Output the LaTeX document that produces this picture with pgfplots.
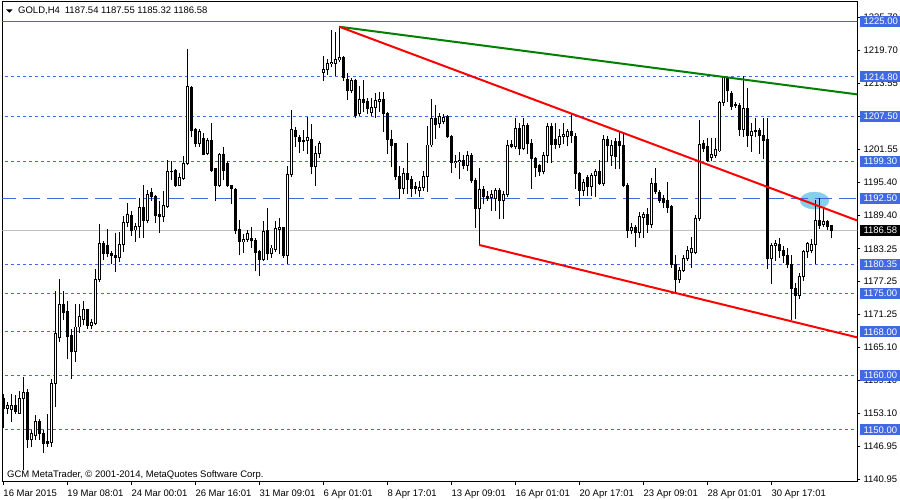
\documentclass[border=0pt]{standalone}
\usepackage{pgfplots}
\pgfplotsset{compat=1.18}
\usepackage{pgfplotstable}
\usepackage{fontspec}
\setmainfont{Liberation Sans}

\definecolor{mtblue}{RGB}{65,105,225}
\definecolor{mtgreen}{RGB}{0,128,0}
\definecolor{mtsky}{RGB}{135,206,235}
\definecolor{mtgray}{RGB}{192,192,192}
\newcommand\mtfont{\fontsize{9.5}{11}\selectfont}
% boxed price label on the right scale
\newcommand\bbox[2]{{\setlength{\fboxsep}{0pt}\colorbox{#1}{\makebox[41pt][l]{\rule[-2.3pt]{0pt}{11pt}\hspace{4pt}\textcolor{white}{#2}}}}}

% GOLD H4 bars: index, open, high, low, close
\pgfplotstableread{
i o h l c
0 1155.7 1156.5 1150.4 1154.0
1 1154.0 1155.1 1153.1 1154.5
2 1153.8 1156.6 1151.6 1154.5
3 1154.5 1156.3 1153.0 1153.4
4 1153.1 1157.0 1153.0 1155.7
5 1155.7 1159.7 1142.7 1156.8
6 1156.8 1157.5 1146.7 1148.2
7 1148.2 1149.9 1147.0 1149.3
8 1149.0 1152.6 1148.2 1151.5
9 1151.5 1151.9 1148.3 1149.3
10 1149.3 1149.9 1145.8 1147.6
11 1147.9 1152.8 1147.0 1147.6
12 1147.7 1159.2 1147.0 1158.5
13 1158.5 1175.5 1154.3 1167.7
14 1167.0 1177.6 1166.2 1173.0
15 1173.0 1175.5 1170.2 1171.6
16 1171.7 1173.5 1163.1 1167.2
17 1167.3 1168.4 1159.5 1164.4
18 1164.4 1173.0 1162.5 1168.9
19 1168.9 1173.0 1167.8 1170.8
20 1170.3 1173.5 1169.3 1172.1
21 1172.1 1172.2 1168.7 1169.2
22 1169.2 1170.2 1168.7 1169.7
23 1169.6 1179.4 1169.3 1177.7
24 1177.7 1187.8 1177.2 1184.3
25 1184.3 1184.6 1181.2 1182.3
26 1183.9 1186.8 1181.8 1182.3
27 1182.4 1182.7 1180.5 1182.0
28 1182.1 1186.1 1179.1 1181.6
29 1181.6 1186.2 1180.9 1184.1
30 1184.1 1189.2 1182.7 1188.1
31 1188.1 1191.5 1187.3 1189.5
32 1189.3 1190.1 1185.7 1186.6
33 1186.7 1187.9 1184.6 1187.4
34 1187.3 1192.5 1185.4 1190.9
35 1190.9 1194.9 1185.4 1188.5
36 1188.4 1194.0 1188.0 1193.3
37 1193.5 1194.3 1192.2 1192.9
38 1192.9 1193.1 1188.0 1189.3
39 1189.5 1191.9 1186.3 1189.1
40 1189.1 1193.7 1188.2 1191.2
41 1191.1 1199.5 1190.9 1197.5
42 1197.5 1199.2 1195.9 1197.4
43 1197.7 1197.8 1194.7 1194.9
44 1194.9 1197.1 1194.8 1196.3
45 1196.2 1200.2 1195.9 1198.9
46 1198.9 1219.8 1198.8 1213.0
47 1212.8 1213.1 1203.9 1205.0
48 1205.1 1205.4 1202.0 1202.5
49 1202.5 1205.1 1202.1 1204.7
50 1203.5 1204.5 1200.5 1200.6
51 1200.7 1203.5 1200.5 1203.2
52 1203.2 1206.2 1197.4 1197.7
53 1197.9 1198.0 1192.2 1194.9
54 1194.8 1200.8 1194.6 1200.5
55 1200.5 1201.9 1195.9 1197.6
56 1198.9 1199.2 1194.6 1194.8
57 1194.9 1194.9 1191.5 1194.3
58 1194.2 1194.3 1186.0 1186.6
59 1186.8 1188.5 1182.2 1184.5
60 1184.5 1185.8 1182.6 1185.0
61 1184.9 1186.6 1184.5 1186.0
62 1185.1 1187.1 1183.5 1184.7
63 1184.8 1185.1 1179.2 1182.6
64 1182.8 1182.9 1178.3 1181.3
65 1181.3 1188.2 1181.1 1186.4
66 1186.6 1190.6 1181.2 1182.3
67 1182.3 1183.9 1181.7 1183.4
68 1183.2 1188.2 1182.8 1187.0
69 1186.8 1188.8 1182.3 1187.1
70 1187.1 1187.2 1181.7 1182.0
71 1182.0 1198.4 1180.6 1196.9
72 1196.9 1208.6 1196.5 1205.1
73 1205.05 1205.5 1202.1 1203.8
74 1203.6 1204.1 1200.9 1202.9
75 1203.2 1204.9 1201.3 1202.9
76 1203.1 1207.3 1200.8 1203.6
77 1203.4 1206.0 1197.0 1198.3
78 1198.3 1202.0 1194.8 1200.8
79 1200.8 1202.9 1200.0 1202.6
80 1215.6 1218.5 1214.1 1216.2
81 1216.1 1218.0 1215.3 1217.3
82 1217.2 1223.4 1216.7 1217.4
83 1217.3 1222.9 1215.1 1218.0
84 1217.9 1224.0 1217.6 1218.4
85 1218.4 1218.5 1214.2 1214.7
86 1214.4 1215.5 1210.7 1212.3
87 1212.3 1214.5 1211.9 1214.2
88 1214.2 1214.4 1207.4 1207.8
89 1208.0 1213.1 1207.8 1210.6
90 1210.6 1214.2 1208.4 1210.1
91 1210.3 1210.9 1208.0 1209.0
92 1208.2 1210.9 1207.8 1209.2
93 1209.2 1211.7 1207.4 1210.4
94 1210.3 1211.9 1208.4 1210.6
95 1210.6 1211.9 1204.7 1208.1
96 1208.1 1208.2 1200.8 1203.3
97 1203.3 1205.0 1198.3 1202.2
98 1202.5 1202.6 1195.9 1196.5
99 1196.6 1198.3 1192.5 1194.3
100 1194.3 1198.0 1193.4 1197.1
101 1197.1 1202.6 1193.4 1195.9
102 1196.0 1196.5 1192.8 1194.3
103 1194.6 1195.4 1193.4 1194.3
104 1193.9 1195.6 1192.8 1194.5
105 1194.5 1197.4 1194.0 1196.6
106 1196.6 1205.7 1193.7 1202.3
107 1202.3 1210.6 1202.1 1207.2
108 1207.2 1209.5 1203.5 1206.1
109 1206.2 1208.0 1205.5 1207.5
110 1206.6 1207.9 1206.2 1207.4
111 1207.5 1207.7 1203.7 1203.8
112 1203.8 1204.0 1197.3 1199.0
113 1199.0 1200.4 1198.1 1199.3
114 1199.2 1201.0 1196.1 1199.5
115 1199.5 1200.4 1197.9 1198.5
116 1198.5 1201.1 1197.6 1200.4
117 1200.4 1200.7 1195.5 1195.7
118 1195.8 1196.1 1187.2 1190.6
119 1190.6 1197.9 1183.9 1194.1
120 1194.1 1194.6 1191.5 1192.9
121 1192.9 1193.7 1192.1 1192.5
122 1192.6 1194.0 1190.3 1193.3
123 1192.4 1194.3 1190.2 1194.0
124 1194.0 1194.4 1188.8 1192.1
125 1192.1 1193.7 1188.8 1193.3
126 1193.3 1203.1 1192.9 1202.2
127 1202.4 1203.2 1201.8 1202.0
128 1202.0 1207.1 1201.6 1205.4
129 1205.4 1206.2 1200.5 1201.6
130 1201.6 1207.1 1201.4 1205.9
131 1205.9 1206.2 1200.7 1202.6
132 1202.6 1203.4 1194.4 1199.8
133 1199.8 1200.1 1196.5 1198.2
134 1198.5 1198.8 1196.7 1197.5
135 1197.5 1201.0 1197.0 1200.4
136 1200.4 1206.2 1199.1 1205.7
137 1205.7 1206.2 1199.1 1202.4
138 1203.4 1206.3 1201.6 1202.4
139 1202.4 1205.2 1201.9 1203.8
140 1203.9 1206.3 1202.5 1204.2
141 1203.9 1205.1 1202.2 1204.8
142 1204.8 1208.0 1202.8 1204.0
143 1203.8 1204.4 1194.3 1197.0
144 1197.0 1197.3 1191.2 1194.0
145 1194.0 1195.9 1193.1 1195.5
146 1196.4 1196.7 1193.1 1194.7
147 1194.6 1197.0 1193.1 1196.7
148 1196.7 1197.8 1192.9 1197.5
149 1197.5 1199.5 1195.1 1195.3
150 1195.3 1204.1 1194.9 1203.3
151 1203.3 1203.8 1199.2 1202.2
152 1200.3 1203.1 1198.6 1202.2
153 1203.0 1203.5 1198.0 1200.1
154 1202.9 1204.7 1198.0 1202.2
155 1202.2 1204.4 1194.6 1194.9
156 1194.9 1195.2 1185.4 1186.6
157 1186.6 1187.9 1186.0 1187.2
158 1187.2 1187.5 1183.7 1186.3
159 1186.3 1190.0 1185.3 1189.1
160 1189.0 1190.0 1185.3 1189.5
161 1189.5 1190.6 1186.3 1187.7
162 1187.7 1196.1 1187.2 1195.2
163 1195.3 1197.9 1193.4 1193.7
164 1193.5 1194.0 1191.8 1192.1
165 1192.5 1193.1 1190.8 1191.8
166 1192.1 1195.5 1190.0 1190.9
167 1191.0 1191.2 1179.9 1180.4
168 1180.4 1182.0 1175.3 1177.6
169 1177.6 1179.9 1177.1 1179.3
170 1179.3 1182.0 1179.0 1181.4
171 1181.4 1183.6 1181.1 1182.9
172 1182.5 1185.3 1179.8 1183.3
173 1182.5 1189.4 1182.3 1188.8
174 1188.8 1206.8 1188.5 1202.4
175 1202.6 1203.2 1201.1 1201.7
176 1202.0 1203.5 1199.2 1199.5
177 1200.0 1203.5 1199.4 1200.6
178 1200.4 1203.5 1200.0 1201.4
179 1201.2 1210.3 1201.1 1210.1
180 1210.1 1214.9 1209.6 1214.6
181 1214.6 1214.7 1210.3 1212.3
182 1211.8 1212.1 1208.9 1209.3
183 1209.8 1210.1 1209.2 1209.5
184 1209.6 1209.9 1204.1 1205.2
185 1205.2 1214.9 1203.9 1209.0
186 1209.0 1212.7 1202.0 1204.0
187 1204.0 1206.3 1201.1 1204.7
188 1205.0 1207.2 1203.8 1204.7
189 1205.0 1205.4 1200.8 1204.1
190 1204.1 1207.2 1199.8 1203.2
191 1203.3 1207.2 1179.6 1181.4
192 1181.4 1184.2 1176.8 1183.9
193 1183.9 1184.8 1181.1 1184.3
194 1184.1 1185.1 1181.7 1182.9
195 1183.0 1183.6 1180.8 1182.1
196 1182.1 1183.3 1179.9 1180.4
197 1180.4 1182.1 1170.2 1175.9
198 1175.9 1176.8 1170.4 1174.7
199 1174.7 1178.8 1174.1 1178.2
200 1178.2 1183.0 1177.5 1182.7
201 1182.7 1184.5 1181.7 1184.2
202 1182.9 1185.0 1182.5 1184.1
203 1184.1 1192.2 1180.5 1188.5
204 1188.5 1192.5 1187.0 1187.6
205 1187.8 1190.6 1187.3 1188.2
206 1188.2 1188.5 1186.7 1187.4
207 1187.54 1187.55 1185.32 1186.58
}\candles

\pgfplotsset{
  level/.style={mtblue, line width=1pt, forget plot},
  dotlevel/.style={level, dash pattern=on 3pt off 3pt},
  stick/.style={draw=none, mark=none, forget plot,
    error bars/y dir=plus, error bars/y explicit, error bars/error mark=none},
}

\begin{document}
\begin{tikzpicture}
\path[use as bounding box] (0,0) rectangle (900pt,500pt);
\begin{axis}[
  at={(2.3pt,18.3pt)}, anchor=south west,
  scale only axis, width=855pt, height=480pt,
  xmin=-0.25, xmax=213.5, ymin=1140.51, ymax=1228.6,
  clip marker paths=true,
  axis line style={black, line width=1pt},
  tick align=outside, major tick length=3pt,
  tick style={black, line width=1pt},
  xtick pos=left, xticklabel pos=left,
  ytick pos=right, yticklabel pos=right,
  xtick={0,16,...,192},
  xticklabels={16 Mar 2015, 19 Mar 08:01, 24 Mar 00:01, 26 Mar 16:01, 31 Mar 09:01, 6 Apr 01:01, 8 Apr 17:01, 13 Apr 09:01, 16 Apr 01:01, 20 Apr 17:01, 23 Apr 09:01, 28 Apr 01:01, 30 Apr 17:01},
  ytick={1140.95,1146.95,1153.10,1159.10,1165.10,1171.25,1177.25,1183.25,1189.40,1195.40,1201.55,1207.55,1213.55,1219.70,1225.70},
  yticklabels={1140.95,1146.95,1153.10,1159.10,1165.10,1171.25,1177.25,1183.25,1189.40,1195.40,1201.55,1207.55,1213.55,1219.70,1225.70},
  extra y ticks={1225,1214.8,1207.5,1199.3,1192.5,1180.35,1175,1168,1160,1150,1186.58},
  extra y tick labels={\bbox{mtblue}{1225.00},\bbox{mtblue}{1214.80},\bbox{mtblue}{1207.50},\bbox{mtblue}{1199.30},\bbox{mtblue}{1192.50},\bbox{mtblue}{1180.35},\bbox{mtblue}{1175.00},\bbox{mtblue}{1168.00},\bbox{mtblue}{1160.00},\bbox{mtblue}{1150.00},\bbox{black}{1186.58}},
  extra y tick style={tick style={draw=none}, yticklabel style={xshift=-4pt}},
  tick label style={font=\mtfont, inner sep=0pt},
  yticklabel style={anchor=west, xshift=3pt},
  xticklabel style={anchor=base west, yshift=-12.3pt},
]
% highlight blob
\addplot[mtsky, only marks, mark=*, mark size=8.5pt, mark options={xscale=1.7, fill=mtsky, draw=mtsky}, forget plot] coordinates {(202.8,1192.1)};

% horizontal levels
\addplot[level] coordinates {(-1,1225) (215,1225)};
\addplot[dotlevel] coordinates {(-1,1214.8) (215,1214.8)};
\addplot[dotlevel] coordinates {(-1,1207.5) (215,1207.5)};
\addplot[dotlevel] coordinates {(-1,1199.3) (215,1199.3)};
\addplot[level, dash pattern=on 17pt off 7pt] coordinates {(-1,1192.5) (215,1192.5)};
\addplot[mtgray, line width=1pt] coordinates {(-1,1186.58) (215,1186.58)};
\addplot[dotlevel] coordinates {(-1,1180.35) (215,1180.35)};
\addplot[dotlevel] coordinates {(-1,1175) (215,1175)};
\addplot[dotlevel] coordinates {(-1,1168) (215,1168)};
\addplot[dotlevel] coordinates {(-1,1160) (215,1160)};
\addplot[dotlevel] coordinates {(-1,1150) (215,1150)};

% wicks
\addplot[stick, error bars/error bar style={draw=black, line width=1pt}]
  table[x=i, y expr={\thisrow{l}-0.09}, y error plus expr={\thisrow{h}-\thisrow{l}+0.18}] {\candles};
% bodies
\addplot[stick, error bars/error bar style={draw=black, line width=3pt}]
  table[x=i, y expr={min(\thisrow{o},\thisrow{c})-0.09}, y error plus expr={abs(\thisrow{c}-\thisrow{o})+0.18}] {\candles};
% hollow insides of rising bars
\addplot[stick, restrict expr to domain={\thisrow{c}-\thisrow{o}}{0.2:1000},
  error bars/error bar style={draw=white, line width=1pt}]
  table[x=i, y expr={\thisrow{o}+0.09}, y error plus expr={\thisrow{c}-\thisrow{o}-0.18}] {\candles};

% trend lines
\addplot[mtgreen, line width=2pt] coordinates {(84,1224.0) (214,1211.54)};
\addplot[red, line width=2pt] coordinates {(84,1224.0) (214,1188.3)};
\addplot[red, line width=2pt] coordinates {(119,1183.95) (214,1166.9)};
\end{axis}
\fill (6pt,490.7pt) -- (12.7pt,490.7pt) -- (9.35pt,487.3pt) -- cycle;
\node[anchor=base west, inner sep=0pt, font=\mtfont] at (18pt,486pt) {GOLD,H4\hspace{5pt}1187.54 1187.55 1185.32 1186.58};
\node[anchor=base west, inner sep=0pt, font=\mtfont] at (7pt,22.5pt) {GCM MetaTrader, © 2001-2014, MetaQuotes Software Corp.};
\end{tikzpicture}
\end{document}
